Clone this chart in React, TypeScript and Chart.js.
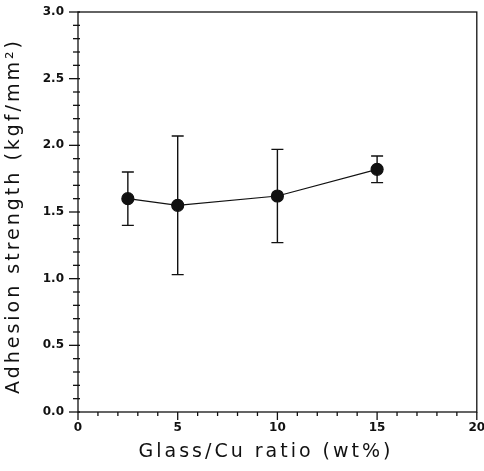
import React, { useEffect, useRef } from "react";
import { Chart, registerables } from "chart.js";

Chart.register(...registerables);

const ratios = [2.5, 5, 10, 15];
const strength = [1.6, 1.55, 1.62, 1.82];
const upperErr = [1.8, 2.07, 1.97, 1.92];
const lowerErr = [1.4, 1.03, 1.27, 1.72];
const yTickValues = [0, 0.5, 1.0, 1.5, 2.0, 2.5, 3.0];
const xTickValues = [0, 5, 10, 15, 20];
const xTitle = "Glass/Cu ratio (wt%)";
const yTitle = "Adhesion strength (kgf/mm\u00B2)";

const framePlugin = {
  id: "frameTicksErrors",
  afterDatasetsDraw(chart: any) {
    const { ctx, chartArea, scales } = chart;
    const xs = scales.x;
    const ys = scales.y;
    ctx.save();
    ctx.strokeStyle = "#111";
    ctx.lineWidth = 1.3;
    ctx.strokeRect(chartArea.left, chartArea.top, chartArea.right - chartArea.left, chartArea.bottom - chartArea.top);
    for (let i = 0; i <= 30; i++) {
      const py = ys.getPixelForValue(i / 10);
      const major = i % 5 === 0;
      ctx.beginPath();
      ctx.moveTo(chartArea.left - (major ? 9 : 5), py);
      ctx.lineTo(chartArea.left + 2, py);
      ctx.stroke();
    }
    for (let i = 0; i <= 20; i++) {
      const px = xs.getPixelForValue(i);
      const major = i % 5 === 0;
      ctx.beginPath();
      ctx.moveTo(px, chartArea.bottom);
      ctx.lineTo(px, chartArea.bottom + (major ? 8 : 4));
      ctx.stroke();
    }
    ctx.lineWidth = 1.4;
    for (let i = 0; i < ratios.length; i++) {
      const px = xs.getPixelForValue(ratios[i]);
      const pt = ys.getPixelForValue(upperErr[i]);
      const pb = ys.getPixelForValue(lowerErr[i]);
      ctx.beginPath();
      ctx.moveTo(px, pt);
      ctx.lineTo(px, pb);
      ctx.moveTo(px - 6, pt);
      ctx.lineTo(px + 6, pt);
      ctx.moveTo(px - 6, pb);
      ctx.lineTo(px + 6, pb);
      ctx.stroke();
    }
    ctx.fillStyle = "#111";
    ctx.font = "19px 'DejaVu Sans'";
    (ctx as any).letterSpacing = "3px";
    ctx.textAlign = "center";
    ctx.textBaseline = "middle";
    ctx.fillText(xTitle, 266, 452);
    ctx.translate(14, 216);
    ctx.rotate(-Math.PI / 2);
    ctx.fillText(yTitle, 0, 0);
    ctx.restore();
  },
};

export default function App() {
  const ref = useRef<HTMLCanvasElement>(null);
  useEffect(() => {
    document.body.style.margin = "0";
    const chart = new Chart(ref.current as HTMLCanvasElement, {
      type: "line",
      data: {
        datasets: [
          {
            data: ratios.map((x, i) => ({ x, y: strength[i] })),
            borderColor: "#111",
            backgroundColor: "#111",
            borderWidth: 1.2,
            pointRadius: 6,
            pointBackgroundColor: "#111",
            pointBorderColor: "#111",
            tension: 0,
          },
        ],
      },
      options: {
        animation: false,
        responsive: false,
        maintainAspectRatio: false,
        layout: { padding: { top: 12, right: 7, left: 0, bottom: 0 } },
        plugins: { legend: { display: false }, tooltip: { enabled: false } },
        scales: {
          x: {
            type: "linear",
            min: 0,
            max: 20,
            grid: { display: false, drawTicks: false },
            border: { display: false },
            afterFit: (s: any) => {
              s.height = 59;
              s.paddingLeft = 0;
              s.paddingRight = 0;
            },
            afterBuildTicks: (s: any) => {
              s.ticks = xTickValues.map((v) => ({ value: v }));
            },
            ticks: {
              padding: 9,
              color: "#111",
              font: { family: "DejaVu Sans", size: 12, weight: "bold" },
              callback: (v: any) => String(v),
            },
          },
          y: {
            type: "linear",
            min: 0,
            max: 3,
            grid: { display: false, drawTicks: false },
            border: { display: false },
            afterFit: (s: any) => {
              s.width = 78;
              s.paddingTop = 0;
              s.paddingBottom = 0;
            },
            afterBuildTicks: (s: any) => {
              s.ticks = yTickValues.map((v) => ({ value: v }));
            },
            ticks: {
              padding: 14,
              color: "#111",
              font: { family: "DejaVu Sans", size: 12, weight: "bold" },
              callback: (v: any) => Number(v).toFixed(1),
            },
          },
        },
      },
      plugins: [framePlugin],
    });
    return () => chart.destroy();
  }, []);
  return (
    <div style={{ width: 484, height: 471, background: "#fff" }}>
      <canvas ref={ref} width={484} height={471} style={{ width: 484, height: 471, display: "block" }} />
    </div>
  );
}
